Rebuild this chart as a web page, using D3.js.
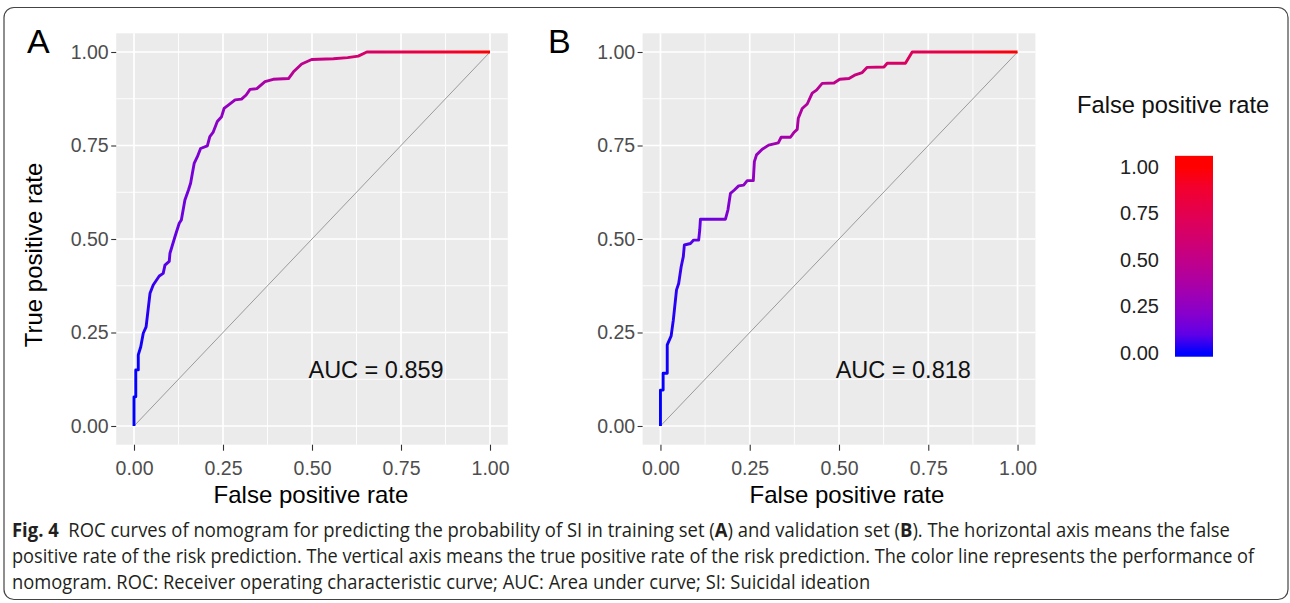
<!DOCTYPE html>
<html lang="en">
<head>
<meta charset="UTF-8">
<title>ROC curves of nomogram</title>
<script src="https://d3js.org/d3.v7.min.js"></script>
<style>
  body { margin: 0; background: #fff; }
  svg { display: block; }
  text { font-family: "Liberation Sans", Arial, sans-serif; }
</style>
</head>
<body>
<svg width="1290" height="603"></svg>
<script>
// ROC points (false positive rate, true positive rate)
const fprA = [0, 0, 0.005, 0.005, 0.012, 0.012, 0.019, 0.026, 0.034, 0.045, 0.054, 0.071, 0.082, 0.087, 0.099, 0.101, 0.115, 0.127, 0.133, 0.143, 0.153, 0.159, 0.164, 0.169, 0.178, 0.187, 0.206, 0.213, 0.222, 0.234, 0.246, 0.253, 0.265, 0.284, 0.302, 0.315, 0.326, 0.345, 0.368, 0.391, 0.434, 0.448, 0.471, 0.499, 0.56, 0.6, 0.63, 0.654, 1];
const tprA = [0, 0.078, 0.078, 0.15, 0.15, 0.19, 0.212, 0.248, 0.265, 0.355, 0.377, 0.401, 0.408, 0.43, 0.44, 0.462, 0.506, 0.542, 0.551, 0.604, 0.631, 0.649, 0.676, 0.702, 0.72, 0.742, 0.749, 0.774, 0.785, 0.814, 0.827, 0.849, 0.858, 0.872, 0.874, 0.885, 0.9, 0.902, 0.921, 0.927, 0.929, 0.947, 0.968, 0.98, 0.982, 0.985, 0.989, 1, 1];
const fprB = [0, 0, 0.0075, 0.0075, 0.019, 0.019, 0.03, 0.036, 0.039, 0.045, 0.051, 0.058, 0.064, 0.067, 0.084, 0.093, 0.107, 0.11, 0.112, 0.182, 0.189, 0.196, 0.207, 0.219, 0.233, 0.243, 0.26, 0.263, 0.269, 0.285, 0.303, 0.33, 0.338, 0.364, 0.373, 0.383, 0.386, 0.397, 0.411, 0.425, 0.437, 0.453, 0.486, 0.502, 0.528, 0.546, 0.565, 0.579, 0.626, 0.635, 0.686, 0.705, 1];
const tprB = [0, 0.096, 0.096, 0.141, 0.141, 0.217, 0.241, 0.283, 0.31, 0.364, 0.381, 0.426, 0.453, 0.484, 0.488, 0.497, 0.497, 0.524, 0.553, 0.553, 0.578, 0.622, 0.631, 0.642, 0.644, 0.656, 0.656, 0.707, 0.725, 0.74, 0.751, 0.757, 0.772, 0.772, 0.784, 0.793, 0.823, 0.849, 0.861, 0.89, 0.898, 0.916, 0.917, 0.927, 0.929, 0.939, 0.945, 0.959, 0.96, 0.97, 0.97, 1, 1];

const axisTicks = [0, 0.25, 0.5, 0.75, 1];
const minorTicks = [0.125, 0.375, 0.625, 0.875];
const panelLabels = ['A', 'B'];
const aucLabels = ['AUC = 0.859', 'AUC = 0.818'];
const legendTicks = [0, 0.25, 0.5, 0.75, 1];

// caption segments as [text, bold]
const captionLines = [
  [['Fig. 4', true], ['  ROC curves of nomogram for predicting the probability of SI in training set (', false], ['A', true], [') and validation set (', false], ['B', true], ['). The horizontal axis means the false', false]],
  [['positive rate of the risk prediction. The vertical axis means the true positive rate of the risk prediction. The color line represents the performance of', false]],
  [['nomogram. ROC: Receiver operating characteristic curve; AUC: Area under curve; SI: Suicidal ideation', false]]
];

const svg = d3.select('svg');
const defs = svg.append('defs');
const colorAt = d3.interpolateLab('#0000ff', '#ff0000');
const stopSteps = d3.range(0, 1.0001, 0.1);

const top0 = 33.3, bottom0 = 444.7;
const panels = [
  { fpr: fprA, tpr: tprA, x0: 116.2, x1: 507.8, titleX: 311, labelX: 27 },
  { fpr: fprB, tpr: tprB, x0: 642.6, x1: 1035.4, titleX: 847, labelX: 548 }
];

// outer frame
svg.append('rect')
  .attr('x', 4).attr('y', 7.5)
  .attr('width', 1284).attr('height', 592)
  .attr('rx', 10)
  .attr('fill', 'none')
  .attr('stroke', '#444')
  .attr('stroke-width', 1.2);

panels.forEach((p, i) => {
  const x = d3.scaleLinear().domain([-0.05, 1.05]).range([p.x0, p.x1]);
  const y = d3.scaleLinear().domain([-0.05, 1.05]).range([bottom0, top0]);
  const g = svg.append('g');

  g.append('rect')
    .attr('x', p.x0).attr('y', top0)
    .attr('width', p.x1 - p.x0).attr('height', bottom0 - top0)
    .attr('fill', '#ebebeb');

  // grid lines
  [[minorTicks, 0.9], [axisTicks, 1.7]].forEach(([vals, w]) => {
    g.selectAll(null).data(vals).join('line')
      .attr('x1', d => x(d)).attr('x2', d => x(d))
      .attr('y1', top0).attr('y2', bottom0)
      .attr('stroke', '#fff').attr('stroke-width', w);
    g.selectAll(null).data(vals).join('line')
      .attr('y1', d => y(d)).attr('y2', d => y(d))
      .attr('x1', p.x0).attr('x2', p.x1)
      .attr('stroke', '#fff').attr('stroke-width', w);
  });

  // reference diagonal
  g.append('line')
    .attr('x1', x(0)).attr('y1', y(0))
    .attr('x2', x(1)).attr('y2', y(1))
    .attr('stroke', '#9a9a9a').attr('stroke-width', 1);

  // gradient coloured by false positive rate
  const grad = defs.append('linearGradient')
    .attr('id', 'roc' + i)
    .attr('gradientUnits', 'userSpaceOnUse')
    .attr('x1', x(0)).attr('x2', x(1))
    .attr('y1', 0).attr('y2', 0);
  grad.selectAll('stop').data(stopSteps).join('stop')
    .attr('offset', d => d)
    .attr('stop-color', d => colorAt(d));

  const pts = p.fpr.map((f, k) => [f, p.tpr[k]]);
  g.append('path')
    .datum(pts)
    .attr('d', d3.line().x(d => x(d[0])).y(d => y(d[1])))
    .attr('fill', 'none')
    .attr('stroke', `url(#roc${i})`)
    .attr('stroke-width', 2.9)
    .attr('stroke-linejoin', 'round');

  g.append('text')
    .attr('x', x(0.68)).attr('y', y(0.15))
    .attr('text-anchor', 'middle')
    .attr('dominant-baseline', 'central')
    .attr('font-size', 23.5)
    .attr('fill', '#111')
    .text(aucLabels[i]);

  // axes
  const yAxis = g.append('g')
    .attr('transform', `translate(${p.x0},0)`)
    .call(d3.axisLeft(y).tickValues(axisTicks).tickFormat(d3.format('.2f')).tickSize(5).tickPadding(2.5));
  const xAxis = g.append('g')
    .attr('transform', `translate(0,${bottom0})`)
    .call(d3.axisBottom(x).tickValues(axisTicks).tickFormat(d3.format('.2f')).tickSize(6).tickPadding(10));
  [yAxis, xAxis].forEach(a => {
    a.select('.domain').remove();
    a.selectAll('.tick line').attr('stroke', '#333').attr('stroke-width', 1.1);
    a.selectAll('.tick text')
      .attr('fill', '#4d4d4d')
      .attr('font-size', 19.5)
      .attr('font-family', '"Liberation Sans", Arial, sans-serif');
  });

  svg.append('text')
    .attr('x', p.titleX).attr('y', 503)
    .attr('text-anchor', 'middle')
    .attr('font-size', 24)
    .attr('fill', '#000')
    .text('False positive rate');

  svg.append('text')
    .attr('x', p.labelX).attr('y', 53)
    .attr('font-size', 34)
    .attr('fill', '#000')
    .text(panelLabels[i]);
});

svg.append('text')
  .attr('transform', 'translate(42,255) rotate(-90)')
  .attr('text-anchor', 'middle')
  .attr('font-size', 24)
  .attr('fill', '#000')
  .text('True positive rate');

// colour bar legend
const yLeg = d3.scaleLinear().domain([0, 1]).range([353, 167]);
const legGrad = defs.append('linearGradient')
  .attr('id', 'legGrad')
  .attr('gradientUnits', 'userSpaceOnUse')
  .attr('x1', 0).attr('x2', 0)
  .attr('y1', yLeg(0)).attr('y2', yLeg(1));
legGrad.selectAll('stop').data(stopSteps).join('stop')
  .attr('offset', d => d)
  .attr('stop-color', d => colorAt(d));

svg.append('text')
  .attr('x', 1077).attr('y', 113)
  .attr('font-size', 23.7)
  .attr('fill', '#111')
  .text('False positive rate');

svg.append('rect')
  .attr('x', 1175).attr('y', yLeg(1.06))
  .attr('width', 38).attr('height', yLeg(-0.02) - yLeg(1.06))
  .attr('fill', 'url(#legGrad)');

const legAxis = svg.append('g')
  .attr('transform', 'translate(1175,0)')
  .call(d3.axisLeft(yLeg).tickValues(legendTicks).tickFormat(d3.format('.2f')).tickSize(0).tickPadding(16));
legAxis.select('.domain').remove();
legAxis.selectAll('.tick text')
  .attr('fill', '#222')
  .attr('font-size', 20)
  .attr('font-family', '"Liberation Sans", Arial, sans-serif');

// caption: draw each line, then squeeze it horizontally to the measured width
const capY = [537, 563, 589];
const capEnd = [1231, 1255, 871];
captionLines.forEach((segs, k) => {
  const t = svg.append('text')
    .attr('x', 0).attr('y', 0)
    .attr('font-size', 19.5)
    .attr('fill', '#231f20')
    .style('font-family', '"Open Sans", "Noto Sans", sans-serif')
    .style('white-space', 'pre');
  segs.forEach(([s, b]) => {
    t.append('tspan').attr('font-weight', b ? 'bold' : 'normal').text(s);
  });
  const w = t.node().getComputedTextLength();
  const sx = (capEnd[k] - 12) / w;
  t.attr('transform', `translate(12,${capY[k]}) scale(${sx},1)`);
});
</script>
</body>
</html>
